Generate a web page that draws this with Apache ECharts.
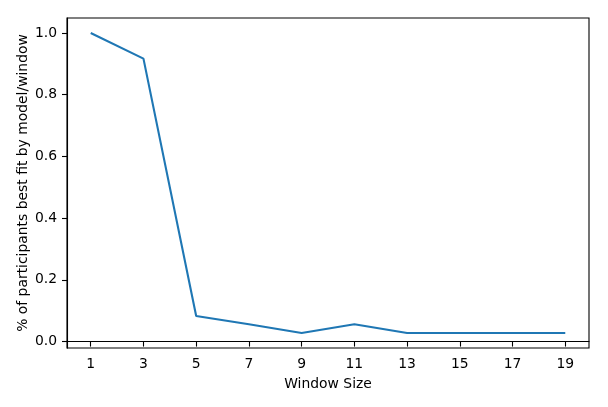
<!DOCTYPE html>
<html>
<head>
<meta charset="utf-8">
<script src="https://cdn.jsdelivr.net/npm/echarts@6/dist/echarts.min.js"></script>
<style>
html,body{margin:0;padding:0;background:#fff;}
#chart{width:608px;height:407px;}
</style>
</head>
<body>
<div id="chart"></div>
<script>
const windowSizes = [1, 3, 5, 7, 9, 11, 13, 15, 17, 19];
const pctBestFit = [1.0, 0.917, 0.083, 0.056, 0.028, 0.056, 0.028, 0.028, 0.028, 0.028];
const xTicks = [1, 3, 5, 7, 9, 11, 13, 15, 17, 19];
const yTicks = [0, 0.2, 0.4, 0.6, 0.8, 1.0];

const FONT = 'DejaVu Sans';
const FS = 13.9;
const chart = echarts.init(document.getElementById('chart'), null, {renderer: 'canvas'});
chart.setOption({
  animation: false,
  backgroundColor: '#ffffff',
  grid: {left: 67, right: 19, top: 18, bottom: 59, show: true, borderColor: '#000', borderWidth: 1.1, backgroundColor: 'transparent'},
  xAxis: {
    type: 'value', min: 0.1, max: 19.9,
    name: 'Window Size', nameLocation: 'middle', nameGap: 29, nameMoveOverlap: false,
    nameTextStyle: {fontFamily: FONT, fontSize: FS, color: '#000'},
    axisLine: {show: true, lineStyle: {color: '#000', width: 1.1}},
    axisTick: {show: true, length: 5, lineStyle: {color: '#000', width: 1.1}, customValues: xTicks},
    axisLabel: {customValues: xTicks, margin: 9, fontFamily: FONT, fontSize: FS, color: '#000'},
    splitLine: {show: false}
  },
  yAxis: {
    type: 'value', min: -0.0208, max: 1.0486,
    name: '% of participants best fit by model/window', nameLocation: 'middle', nameGap: 37, nameMoveOverlap: false,
    nameTextStyle: {fontFamily: FONT, fontSize: FS, color: '#000'},
    axisLine: {show: true, lineStyle: {color: '#000', width: 1.1}},
    axisTick: {show: true, length: 5, lineStyle: {color: '#000', width: 1.1}, customValues: yTicks},
    axisLabel: {customValues: yTicks, margin: 10, fontFamily: FONT, fontSize: FS, color: '#000', formatter: v => v.toFixed(1)},
    splitLine: {show: false}
  },
  series: [{
    type: 'line',
    data: windowSizes.map((x, i) => [x, pctBestFit[i]]),
    showSymbol: false,
    lineStyle: {color: '#1f77b4', width: 2.1},
    itemStyle: {color: '#1f77b4'}
  }]
});
</script>
</body>
</html>
